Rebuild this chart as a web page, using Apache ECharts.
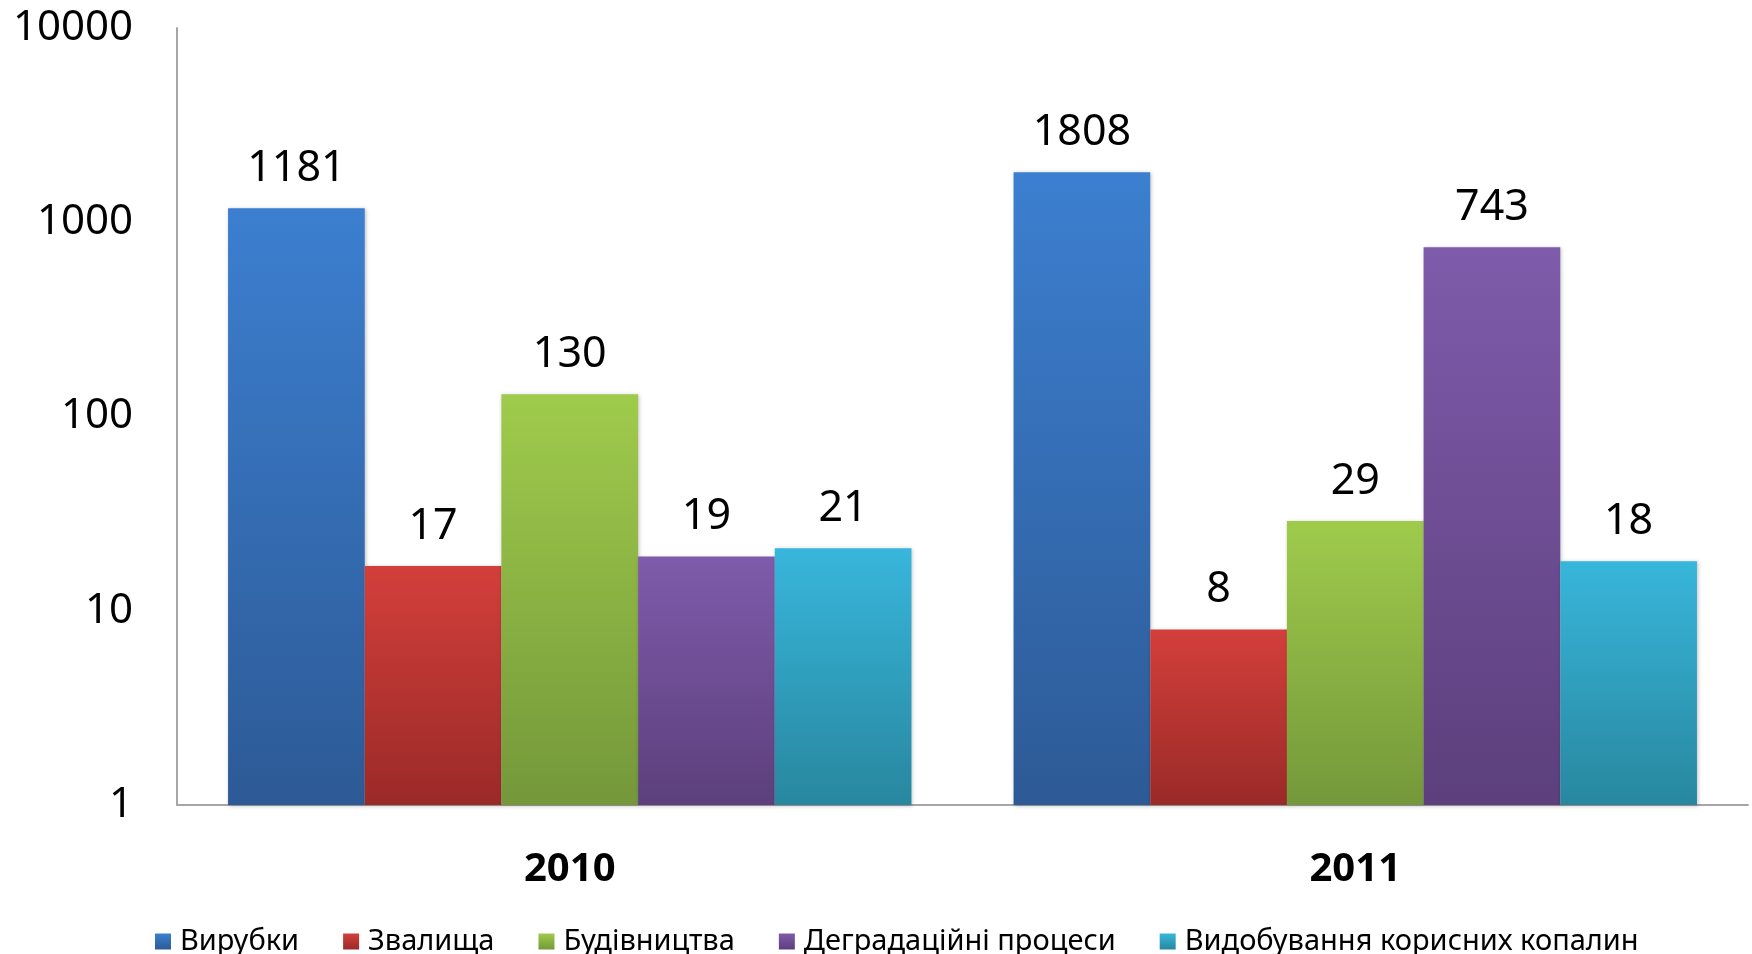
<!DOCTYPE html>
<html>
<head>
<meta charset="utf-8">
<script src="https://cdn.jsdelivr.net/npm/echarts@6/dist/echarts.min.js"></script>
<style>
  html, body { margin: 0; padding: 0; background: #fff; }
  #chart { width: 1752px; height: 954px; }
</style>
</head>
<body>
<div id="chart"></div>
<script>
// категорії та значення
const years = ['2010', '2011']
const seriesNames = ['Вирубки', 'Звалища', 'Будівництва', 'Деградаційні процеси', 'Видобування корисних копалин']
const virubky = [1181, 1808]
const zvalyshcha = [17, 8]
const budivnytstva = [130, 29]
const degradatsiia = [19, 743]
const vydobuvannia = [21, 18]
const yTicks = [1, 10, 100, 1000, 10000]

// кольори градієнта: верх / низ
const colors = [
  ['#3c7fd0', '#2d5a96'],
  ['#d33f3b', '#9a2a28'],
  ['#9fcb4c', '#74983a'],
  ['#7f5bab', '#5c3f7c'],
  ['#38b6db', '#28879f']
]

const seriesData = [virubky, zvalyshcha, budivnytstva, degradatsiia, vydobuvannia]

const chart = echarts.init(document.getElementById('chart'))

chart.setOption({
  animation: false,
  textStyle: { fontFamily: 'Noto Sans' },
  grid: {
    left: 177,
    right: 4,
    top: 28,
    bottom: 149,
    containLabel: false
  },
  legend: {
    data: seriesNames,
    top: 922,
    left: 150,
    icon: 'rect',
    itemWidth: 16,
    itemHeight: 16,
    itemGap: 44,
    textStyle: {
      fontSize: 29,
      color: '#000',
      fontFamily: 'Noto Sans',
      padding: [0, 0, 0, 4]
    }
  },
  xAxis: {
    type: 'category',
    data: years,
    axisLine: { lineStyle: { color: '#a6a6a6', width: 2 } },
    axisTick: { show: false },
    axisLabel: {
      margin: 45,
      fontSize: 40,
      fontWeight: 'bold',
      color: '#000'
    }
  },
  yAxis: {
    type: 'log',
    logBase: 10,
    min: yTicks[0],
    max: yTicks[yTicks.length - 1],
    axisLine: { show: true, lineStyle: { color: '#a6a6a6', width: 2 } },
    axisTick: { show: false },
    splitLine: { show: false },
    axisLabel: {
      margin: 44,
      fontSize: 42,
      color: '#000',
      formatter: v => String(Math.round(v))
    }
  },
  series: seriesNames.map((name, i) => ({
    name: name,
    type: 'bar',
    barGap: '0%',
    barCategoryGap: '13%',
    data: seriesData[i],
    itemStyle: {
      color: new echarts.graphic.LinearGradient(0, 0, 0, 1, [
        { offset: 0, color: colors[i][0] },
        { offset: 1, color: colors[i][1] }
      ]),
      shadowColor: 'rgba(0,0,0,0.25)',
      shadowBlur: 4,
      shadowOffsetX: 1,
      shadowOffsetY: 1
    },
    label: {
      show: true,
      position: 'top',
      distance: 18,
      fontSize: 43,
      color: '#000'
    }
  }))
})
</script>
</body>
</html>
